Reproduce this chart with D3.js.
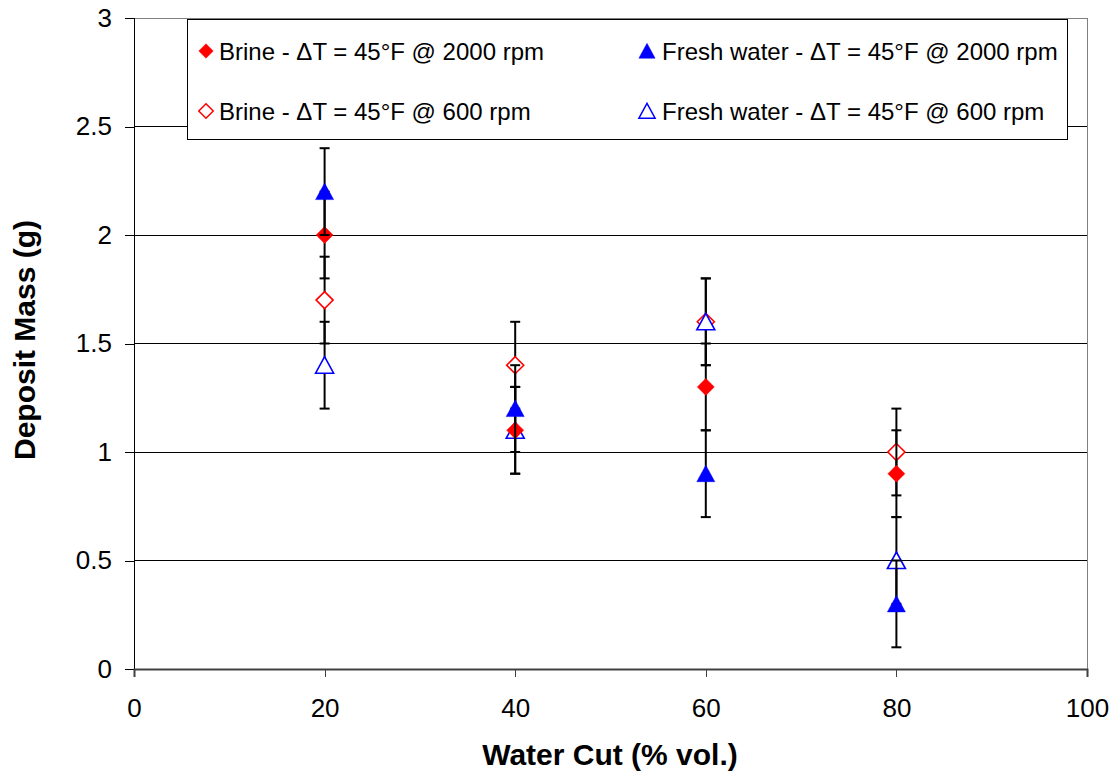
<!DOCTYPE html>
<html>
<head>
<meta charset="utf-8">
<script src="https://cdn.jsdelivr.net/npm/d3@7"></script>
<style>
  html, body { margin: 0; padding: 0; background: #fff; }
  svg { display: block; font-family: "Liberation Sans", Arial, sans-serif; }
</style>
</head>
<body>
<svg id="chart" width="1117" height="771"></svg>
<script>
// ---- Data ----
const waterCut = [20, 40, 60, 80];
const brine2000 = [2.0, 1.1, 1.3, 0.9];
const fresh2000 = [2.2, 1.2, 0.9, 0.3];
const brine600 = [1.7, 1.4, 1.6, 1.0];
const fresh600 = [1.4, 1.1, 1.6, 0.5];
const errBrine2000 = [0.2, 0.2, 0.2, 0.2];
const errFresh2000 = [0.2, 0.2, 0.2, 0.2];
const errBrine600 = [0.2, 0.2, 0.2, 0.2];
const errFresh600 = [0.2, 0.2, 0.2, 0.2];
const xTicks = [0, 20, 40, 60, 80, 100];
const yTicks = [0, 0.5, 1, 1.5, 2, 2.5, 3];
const seriesNames = [
  "Brine - \u0394T = 45\u00B0F @ 2000 rpm",
  "Fresh water - \u0394T = 45\u00B0F @ 2000 rpm",
  "Brine - \u0394T = 45\u00B0F @ 600 rpm",
  "Fresh water - \u0394T = 45\u00B0F @ 600 rpm"
];

(function () {
// ---- Series definitions (style) ----
const series = [
  { name: seriesNames[0], values: brine2000, err: errBrine2000, shape: "diamond", filled: true, color: "#ff0000" },
  { name: seriesNames[1], values: fresh2000, err: errFresh2000, shape: "triangle", filled: true, color: "#0000ff" },
  { name: seriesNames[2], values: brine600, err: errBrine600, shape: "diamond", filled: false, color: "#ff0000" },
  { name: seriesNames[3], values: fresh600, err: errFresh600, shape: "triangle", filled: false, color: "#0000ff" }
];
const drawOrder = [2, 3, 0, 1];

const svg = d3.select("#chart");
const pLeft = 134, pRight = 1087, pTop = 18, pBottom = 669;

const x = d3.scaleLinear().domain([0, 100]).range([pLeft, pRight]);
const y = d3.scaleLinear().domain([0, 3]).range([pBottom, pTop]);

function shapePath(shape, s) {
  if (shape === "diamond") {
    const h = 8.5 * s;
    return `M0,${-h}L${h},0L0,${h}L${-h},0Z`;
  } else {
    const w = 9 * s, t = 8.5 * s, b = 8 * s;
    return `M0,${-t}L${w},${b}L${-w},${b}Z`;
  }
}

// Gridlines
svg.append("g").selectAll("line")
  .data(yTicks.filter(d => d > 0 && d < 3))
  .join("line")
  .attr("x1", pLeft).attr("x2", pRight)
  .attr("y1", d => y(d)).attr("y2", d => y(d))
  .attr("stroke", "#000").attr("stroke-width", 1)
  .attr("shape-rendering", "crispEdges");

// Plot border: top and right gray
svg.append("line").attr("x1", pLeft).attr("x2", pRight).attr("y1", y(3)).attr("y2", y(3))
  .attr("stroke", "#808080").attr("stroke-width", 1).attr("shape-rendering", "crispEdges");
svg.append("line").attr("x1", pRight).attr("x2", pRight).attr("y1", y(3)).attr("y2", y(0))
  .attr("stroke", "#808080").attr("stroke-width", 1).attr("shape-rendering", "crispEdges");

// Y axis
const yAxis = d3.axisLeft(y).tickValues(yTicks).tickSize(9).tickPadding(13)
  .tickFormat(d => d3.format("")(d));
const gy = svg.append("g").attr("transform", `translate(${pLeft},0)`).call(yAxis);
gy.select(".domain").attr("stroke", "#000").attr("shape-rendering", "crispEdges");
gy.selectAll(".tick line").attr("stroke", "#000").attr("shape-rendering", "crispEdges");
gy.selectAll(".tick text").attr("font-size", 26).attr("fill", "#000")
  .attr("font-family", "Liberation Sans, Arial, sans-serif");

// X axis
const xAxis = d3.axisBottom(x).tickValues(xTicks).tickSize(8).tickPadding(22);
const gx = svg.append("g").attr("transform", `translate(0,${pBottom})`).call(xAxis);
gx.select(".domain").attr("stroke", "#404040").attr("stroke-width", 2);
gx.selectAll(".tick line").attr("stroke", "#404040").attr("shape-rendering", "crispEdges");
gx.selectAll(".tick text").attr("font-size", 26).attr("fill", "#000")
  .attr("font-family", "Liberation Sans, Arial, sans-serif");

// Series
const plot = svg.append("g");
drawOrder.forEach(i => {
  const s = series[i];
  const g = plot.append("g");
  const pts = waterCut.map((wc, j) => ({ x: wc, v: s.values[j], e: s.err[j] }));
  g.selectAll("line.bar").data(pts).join("line").attr("class", "bar")
    .attr("x1", d => x(d.x)).attr("x2", d => x(d.x))
    .attr("y1", d => y(d.v + d.e)).attr("y2", d => y(d.v - d.e))
    .attr("stroke", "#000").attr("stroke-width", 2);
  g.selectAll("line.capT").data(pts).join("line").attr("class", "capT")
    .attr("x1", d => x(d.x) - 5).attr("x2", d => x(d.x) + 5)
    .attr("y1", d => y(d.v + d.e)).attr("y2", d => y(d.v + d.e))
    .attr("stroke", "#000").attr("stroke-width", 2);
  g.selectAll("line.capB").data(pts).join("line").attr("class", "capB")
    .attr("x1", d => x(d.x) - 5).attr("x2", d => x(d.x) + 5)
    .attr("y1", d => y(d.v - d.e)).attr("y2", d => y(d.v - d.e))
    .attr("stroke", "#000").attr("stroke-width", 2);
  g.selectAll("path").data(pts).join("path")
    .attr("d", shapePath(s.shape, 1))
    .attr("transform", d => `translate(${x(d.x)},${y(d.v)})`)
    .attr("fill", s.filled ? s.color : "#fff")
    .attr("stroke", s.color)
    .attr("stroke-width", s.filled ? 0.5 : 1.6);
});

// Legend
const lg = svg.append("g");
lg.append("rect").attr("x", 187.5).attr("y", 19.5).attr("width", 880).attr("height", 120)
  .attr("fill", "#fff").attr("stroke", "#000").attr("stroke-width", 1);
const legendPos = [
  { mx: 206, tx: 219, cy: 51, base: 60 },
  { mx: 647, tx: 662, cy: 51, base: 60 },
  { mx: 206, tx: 219, cy: 111, base: 120 },
  { mx: 647, tx: 662, cy: 111, base: 120 }
];
series.forEach((s, i) => {
  const p = legendPos[i];
  lg.append("path")
    .attr("d", shapePath(s.shape, s.shape === "diamond" ? 0.85 : 0.9))
    .attr("transform", `translate(${p.mx},${p.cy})`)
    .attr("fill", s.filled ? s.color : "#fff")
    .attr("stroke", s.color)
    .attr("stroke-width", s.filled ? 0.5 : 1.5);
  lg.append("text").attr("x", p.tx).attr("y", p.base)
    .attr("font-size", 24).attr("fill", "#000")
    .text(s.name);
});

// Axis titles
svg.append("text").attr("x", 610).attr("y", 765).attr("text-anchor", "middle")
  .attr("font-size", 30).attr("font-weight", "bold").text("Water Cut (% vol.)");
svg.append("text").attr("transform", "translate(35,340) rotate(-90)").attr("text-anchor", "middle")
  .attr("font-size", 30).attr("font-weight", "bold").text("Deposit Mass (g)");
})();
</script>
</body>
</html>
